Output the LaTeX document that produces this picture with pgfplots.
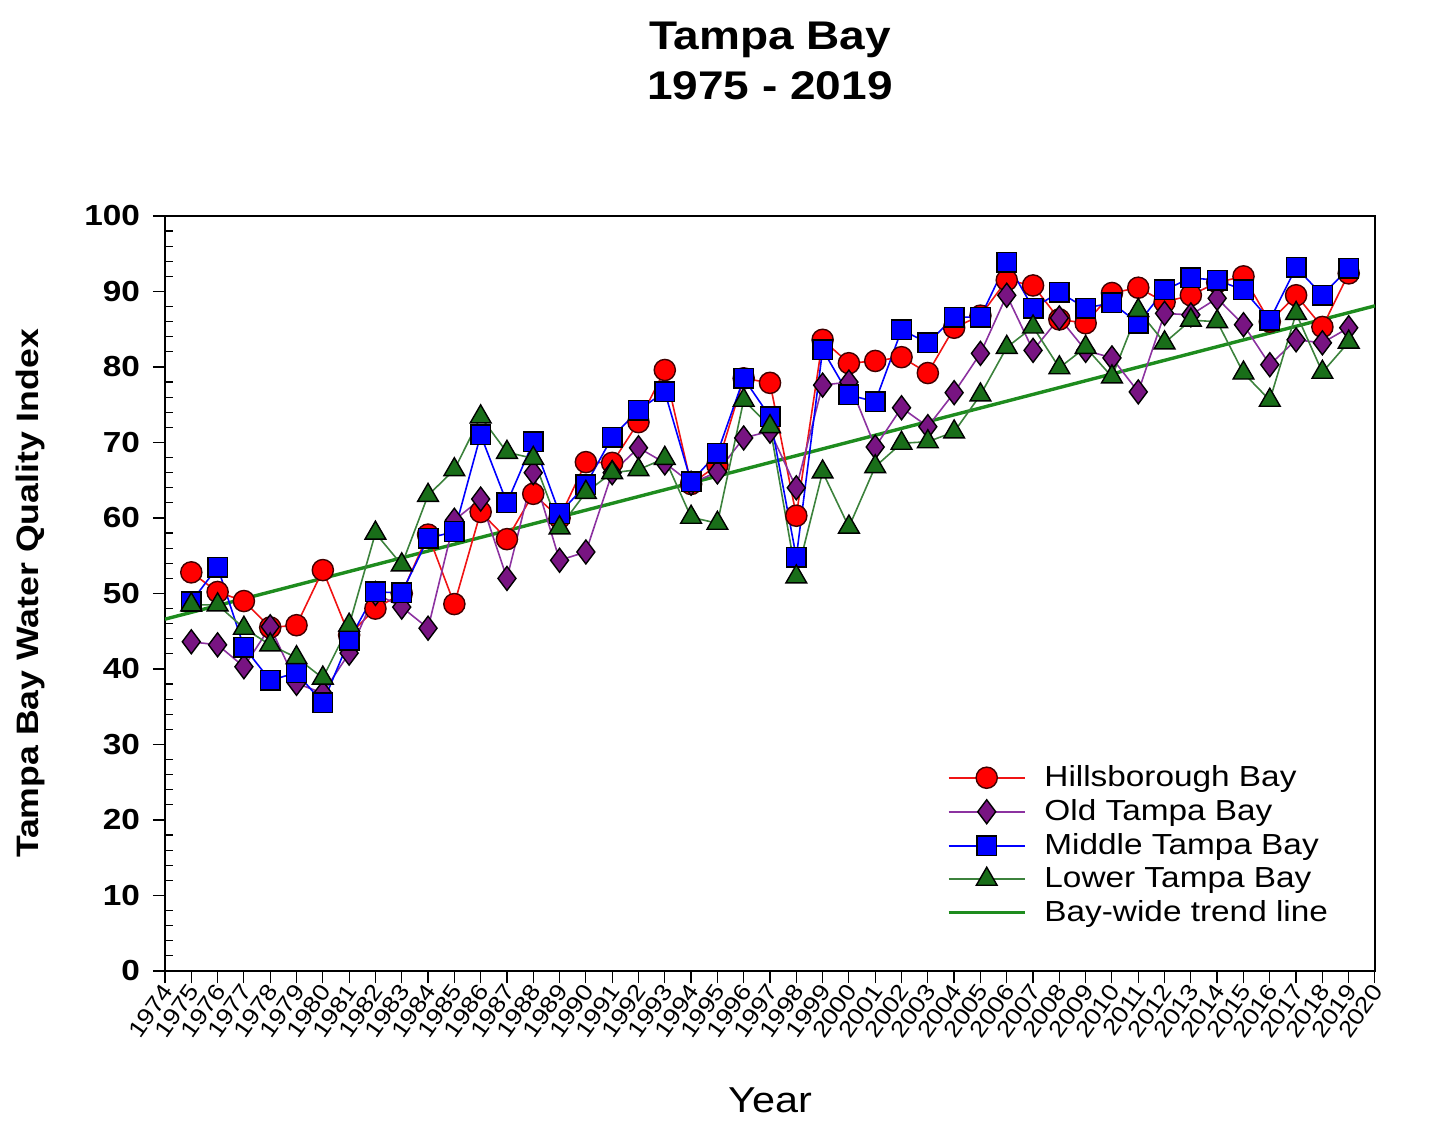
\documentclass[border=0pt]{standalone}
\usepackage{pgfplots}
\pgfplotsset{compat=1.18}
\usepackage{pgfplotstable}
\usepackage{fontspec}
\setmainfont{Liberation Sans}[FakeStretch=1.15]

\definecolor{hbred}{RGB}{255,0,0}
\definecolor{hbredline}{RGB}{240,20,20}
\definecolor{otpurple}{RGB}{120,20,130}
\definecolor{otline}{RGB}{140,50,160}
\definecolor{mtblue}{RGB}{0,0,255}
\definecolor{ltgreen}{RGB}{25,110,25}
\definecolor{ltline}{RGB}{60,130,60}
\definecolor{trend}{RGB}{30,140,30}

\pgfplotstableread{
year H O M L
1975 52.8 43.6 48.9 48.5
1976 50.2 43.2 53.5 48.5
1977 49.0 40.3 42.9 45.4
1978 45.5 45.6 38.5 43.2
1979 45.8 38.1 39.5 41.5
1980 53.1 36.8 35.5 38.8
1981 44.5 42.1 43.8 45.8
1982 48.0 50.0 50.2 58.0
1983 50.0 48.2 50.1 53.8
1984 57.8 45.4 57.3 63.0
1985 48.6 59.7 58.2 66.4
1986 60.8 62.5 71.0 73.4
1987 57.2 52.0 62.0 68.7
1988 63.2 66.0 70.1 67.9
1989 60.0 54.4 60.6 58.7
1990 67.4 55.5 64.4 63.4
1991 67.3 66.0 70.7 66.0
1992 72.7 69.3 74.3 66.4
1993 79.6 67.3 76.7 67.9
1994 64.5 64.6 64.8 60.1
1995 67.0 66.1 68.6 59.3
1996 78.5 70.6 78.5 75.6
1997 77.9 71.5 73.4 72.1
1998 60.3 64.0 54.8 52.2
1999 83.6 77.6 82.3 66.1
2000 80.5 78.0 76.3 58.8
2001 80.8 69.4 75.4 66.8
2002 81.3 74.6 84.9 69.9
2003 79.2 72.1 83.2 70.1
2004 85.2 76.6 86.6 71.4
2005 86.8 81.8 86.6 76.3
2006 91.5 89.5 93.9 82.6
2007 90.8 82.2 87.8 85.3
2008 86.3 86.5 89.9 79.9
2009 85.8 82.2 87.8 82.6
2010 89.8 81.2 88.5 78.7
2011 90.5 76.7 85.8 87.5
2012 88.6 87.1 90.2 83.2
2013 89.5 86.9 91.8 86.2
2014 91.2 89.1 91.5 86.0
2015 92.0 85.6 90.2 79.2
2016 86.0 80.3 86.2 75.6
2017 89.5 83.6 93.2 87.1
2018 85.3 83.2 89.5 79.3
2019 92.4 85.2 93.1 83.3
}\datatable

\pgfplotstableread{
year T
1974 46.6
2020 88.1
}\trendtable

\begin{document}
\begin{tikzpicture}
\begin{axis}[
  scale only axis,
  width=605pt, height=377.5pt,
  xmin=1974, xmax=2020, ymin=0, ymax=100,
  xtick={1974,...,2020},
  ytick={0,10,...,100},
  minor y tick num=4,
  /pgf/number format/1000 sep={},
  /pgf/number format/assume math mode=true,
  xtick align=outside,
  ytick align=inside,
  major tick length=6pt,
  minor tick length=4pt,
  major y tick style={xshift=-6pt},
  tick style={black, line width=0.6pt},
  axis line style={black, line width=0.8pt},
  xtick pos=bottom, ytick pos=left,
  yticklabel style={font=\bfseries\fontsize{14.5}{16}\selectfont, xshift=-9pt},
  xticklabel style={font=\fontsize{11.5}{13}\selectfont, rotate=55, anchor=east, inner sep=0.5pt, yshift=-2pt},
  legend style={at={(0.641,0.283)}, anchor=north west, draw=none, fill=none,
    font=\fontsize{14.5}{16}\selectfont, row sep=1pt, cells={anchor=west}},
  legend image code/.code={\draw[mark repeat=2, mark phase=2, #1] plot coordinates {(0pt,0pt) (19pt,0pt) (38pt,0pt)}; \path (45pt,0pt);},
  every axis plot/.append style={line width=0.8pt},
]
\addplot[trend, line width=1.7pt, forget plot] table[x=year, y=T] {\trendtable};

\addplot[hbredline, mark=*, mark size=5.3pt, mark options={solid, fill=hbred, draw=black!75!red, line width=0.7pt}] table[x=year, y=H] {\datatable};
\addlegendentry{Hillsborough Bay}
\addplot[otline, mark=diamond*, mark size=6pt, mark options={solid, fill=otpurple, draw=black, line width=0.7pt}] table[x=year, y=O] {\datatable};
\addlegendentry{Old Tampa Bay}
\addplot[mtblue, mark=square*, mark size=4.9pt, mark options={solid, fill=mtblue, draw=black, line width=0.7pt}] table[x=year, y=M] {\datatable};
\addlegendentry{Middle Tampa Bay}
\addplot[ltline, mark=triangle*, mark size=6pt, mark options={solid, fill=ltgreen, draw=black, line width=0.7pt}] table[x=year, y=L] {\datatable};
\addlegendentry{Lower Tampa Bay}
\addlegendimage{trend, line width=1.7pt}
\addlegendentry{Bay-wide trend line}
\end{axis}
\node[anchor=base, font=\bfseries\fontsize{20}{24}\selectfont] at ([yshift=83pt]current axis.north) {Tampa Bay};
\node[anchor=base, font=\bfseries\fontsize{20}{24}\selectfont] at ([yshift=58pt]current axis.north) {1975 - 2019};
\node[rotate=90, font=\bfseries\fontsize{15.5}{18}\selectfont] at ([xshift=-67.5pt]current axis.west) {Tampa Bay Water Quality Index};
\node[font=\fontsize{18}{21}\selectfont] at ([yshift=-64.5pt]current axis.south) {Year};
\pgfresetboundingbox
\path[use as bounding box] ([xshift=-82.5pt,yshift=-76.5pt]current axis.south west) rectangle ([xshift=30pt,yshift=108pt]current axis.north east);
\end{tikzpicture}
\end{document}
